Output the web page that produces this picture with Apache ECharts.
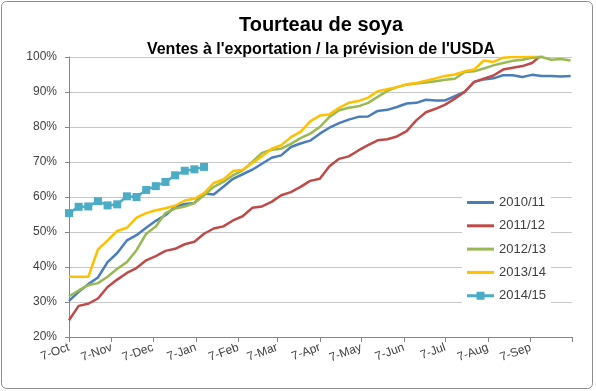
<!DOCTYPE html>
<html><head><meta charset="utf-8">
<script src="https://cdn.jsdelivr.net/npm/echarts@6/dist/echarts.min.js"></script>
<style>html,body{margin:0;padding:0;background:#fff}#c{width:596px;height:391px}</style>
</head><body><div id="c"></div>
<script>
const titleText = 'Tourteau de soya';
const subtitleText = "Ventes à l'exportation / la prévision de l'USDA";
const seriesNames = ['2010/11', '2011/12', '2012/13', '2013/14', '2014/15'];
const tickLabels = ['7-Oct','7-Nov','7-Dec','7-Jan','7-Feb','7-Mar','7-Apr','7-May','7-Jun','7-Jul','7-Aug','7-Sep'];
// days since 7-Oct for each monthly tick (date axis)
const tickDays = [0,31,61,92,123,151,182,212,243,273,304,335,365];
const daysBetweenPoints = 7; // weekly observations starting 7-Oct

const s2010 = [30.3,32.9,35.1,37.0,41.4,44.0,47.6,49.1,51.2,53.2,54.8,57.2,58.0,58.3,61.0,60.7,62.9,65.2,66.5,67.8,69.5,71.2,71.9,74.3,75.3,76.1,78.1,79.8,81.1,82.1,82.9,83.0,84.6,84.9,85.7,86.7,86.9,87.8,87.6,87.6,88.8,90.0,92.9,93.6,93.9,94.8,94.8,94.3,94.9,94.6,94.6,94.4,94.6];
const s2011 = [24.8,28.9,29.5,31.0,34.3,36.4,38.3,39.7,41.9,43.1,44.6,45.2,46.5,47.2,49.5,51.0,51.6,53.3,54.5,56.9,57.3,58.6,60.5,61.4,62.9,64.6,65.2,68.8,70.9,71.6,73.3,74.8,76.2,76.5,77.3,78.8,81.9,84.2,85.2,86.4,88.1,90.0,92.9,93.8,94.7,96.4,96.9,97.4,98.3,100.6,101.5,102.0,102.4];
const s2012 = [31.6,33.3,34.8,35.4,37.2,39.5,41.4,44.8,49.5,51.6,55.4,56.7,57.3,58.3,60.5,62.9,64.3,66.2,67.6,70.0,72.6,73.5,73.8,75.2,76.8,78.1,80.0,82.9,84.8,85.5,85.9,86.9,88.6,90.3,91.4,92.1,92.4,92.7,93.1,93.5,93.8,95.7,95.9,96.7,97.6,98.3,98.9,99.2,99.8,100.0,99.2,99.4,99.0];
const s2013 = [37.2,37.2,37.2,45.0,47.6,50.3,51.2,54.1,55.4,56.2,56.8,57.5,59.0,59.5,61.1,64.0,65.0,67.4,67.8,69.7,71.6,73.8,74.8,77.1,78.6,81.6,83.3,83.6,85.5,86.9,87.4,88.4,90.2,90.8,91.4,92.2,92.6,93.2,93.9,94.6,95.0,95.9,96.4,99.0,98.6,99.8,100.0,100.0,100.3,101.0,101.5,102.0,102.3];
const s2014 = [55.4,57.2,57.3,58.8,57.6,57.9,60.2,60.0,62.0,63.1,64.3,66.2,67.5,67.9,68.6];

const colors = ['#4A7EBB', '#BE4B48', '#98B954', '#FFC000', '#4BACC6'];
const values = [s2010, s2011, s2012, s2013, s2014];

function toPoints(arr) { return arr.map((v, i) => [i * daysBetweenPoints, v]); }

const lineIcon = 'path://M0,0L27,0L27,3L0,3Z';
const markerIcon = 'path://M0,2.5L9.5,2.5L9.5,0L17.5,0L17.5,2.5L27,2.5L27,5.5L17.5,5.5L17.5,8L9.5,8L9.5,5.5L0,5.5Z';

const FONT = '"Liberation Sans", Arial, sans-serif';
const chart = echarts.init(document.getElementById('c'), null, { renderer: 'canvas' });
chart.setOption({
  animation: false,
  backgroundColor: '#ffffff',
  textStyle: { fontFamily: FONT },
  title: [
    { text: titleText, left: 316, top: 10, textAlign: 'center',
      textStyle: { fontSize: 20, fontWeight: 'bold', color: '#000', fontFamily: FONT } },
    { text: subtitleText, left: 316, top: 37, textAlign: 'center',
      textStyle: { fontSize: 16, fontWeight: 'bold', color: '#000', fontFamily: FONT } }
  ],
  graphic: [{
    type: 'rect', silent: true, z: 100,
    shape: { x: 1.5, y: 1.5, width: 591, height: 387, r: 5 },
    style: { fill: 'none', stroke: '#8C8C8C', lineWidth: 1 }
  }],
  grid: { left: 69, right: 24, top: 57, bottom: 54, containLabel: false, outerBoundsMode: 'none' },
  xAxis: {
    type: 'value', min: tickDays[0], max: tickDays[tickDays.length - 1],
    axisLine: { show: true, lineStyle: { color: '#868686', width: 1 } },
    axisTick: { show: true, customValues: tickDays, length: 5, lineStyle: { color: '#868686' } },
    axisLabel: {
      customValues: tickDays.slice(0, tickLabels.length),
      formatter: v => { const k = tickDays.indexOf(v); return k >= 0 && k < tickLabels.length ? tickLabels[k] : ''; },
      rotate: 20, margin: 10, fontSize: 12, color: '#404040', fontFamily: FONT
    },
    splitLine: { show: false }
  },
  yAxis: {
    type: 'value', min: 20, max: 100, interval: 10,
    axisLine: { show: true, lineStyle: { color: '#868686', width: 1 } },
    axisTick: { show: true, length: 4, lineStyle: { color: '#868686' } },
    axisLabel: { formatter: '{value}%', fontSize: 12, color: '#404040', margin: 12, fontFamily: FONT },
    splitLine: { show: true, lineStyle: { color: '#C8C8C8', width: 1 } }
  },
  legend: {
    orient: 'vertical', left: 462, top: 190, padding: [6, 5, 6, 5],
    itemGap: 10.3, itemWidth: 27, itemHeight: 14,
    backgroundColor: '#ffffff',
    textStyle: { fontSize: 13, color: '#404040', fontFamily: FONT },
    data: seriesNames.map((n, k) => ({ name: n, icon: k === 4 ? markerIcon : lineIcon }))
  },
  series: seriesNames.map((name, k) => ({
    name: name, type: 'line',
    data: toPoints(values[k]),
    color: colors[k],
    clip: true,
    symbol: k === 4 ? 'rect' : 'none',
    showSymbol: k === 4,
    symbolSize: 8,
    itemStyle: { color: colors[k] },
    lineStyle: { width: 2.5, color: colors[k], join: 'round' }
  }))
});
</script></body></html>
